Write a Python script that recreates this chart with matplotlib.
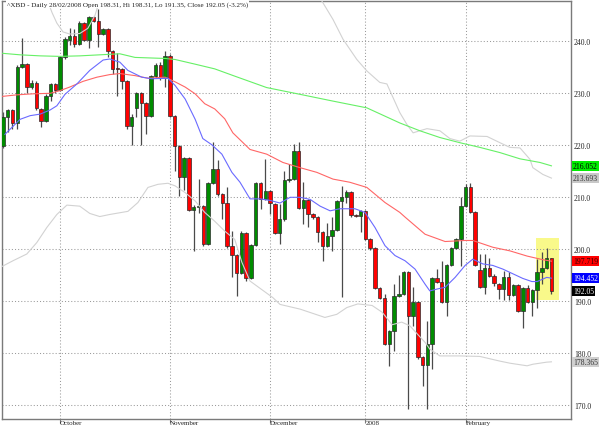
import matplotlib
matplotlib.use('Agg')
import matplotlib.pyplot as plt
from matplotlib.patches import Rectangle
import numpy as np

# ---------------- data ----------------
opens = [219.8, 225.5, 226.7, 224.2, 235.0, 235.6, 231.3, 231.9, 227.0, 224.7,
         229.4, 231.8, 230.6, 236.9, 240.3, 241.0, 239.5, 243.5, 240.3, 244.6,
         244.0, 241.5, 242.4, 238.1, 234.8, 234.7, 232.4, 223.8, 227.2, 230.1,
         228.1, 225.6, 233.3, 235.5, 232.9, 237.1, 225.6, 219.9, 214.0, 217.5,
         207.6, 208.1, 208.3, 201.0, 212.8, 215.4, 210.6, 208.9, 200.6, 198.9,
         195.4, 203.1, 194.4, 200.8, 212.8, 209.6, 211.3, 208.7, 203.1, 205.8,
         213.3, 213.5, 218.9, 208.0, 209.4, 206.7, 206.2, 203.3, 200.7, 202.5,
         203.8, 209.2, 210.0, 211.0, 206.6, 206.5, 207.4, 202.0, 200.2, 192.5,
         190.6, 181.8, 184.2, 191.0, 191.4, 195.7, 187.2, 189.8, 179.2, 177.8,
         181.8, 194.4, 193.7, 189.8, 197.0, 200.2, 202.0, 208.4, 211.9, 207.1,
         196.0, 192.7, 196.4, 194.8, 193.3, 192.4, 194.6, 191.3, 193.2, 188.2,
         192.5, 189.8, 192.1, 195.6, 196.5, 198.31]
closes = [225.5, 226.7, 224.2, 235.0, 235.6, 231.3, 231.9, 227.1, 224.7, 229.4,
          231.8, 230.6, 236.9, 240.4, 241.0, 239.5, 243.5, 240.3, 244.6, 244.0,
          241.5, 242.4, 238.1, 234.7, 234.6, 232.4, 223.8, 225.4, 230.1, 228.1,
          225.6, 233.3, 235.5, 232.9, 237.1, 225.7, 219.9, 214.0, 217.5, 207.6,
          208.1, 208.3, 201.0, 212.8, 215.4, 210.6, 208.9, 200.6, 198.9, 195.4,
          203.1, 194.4, 200.8, 212.8, 209.6, 211.3, 208.9, 203.1, 205.8, 213.3,
          213.5, 218.9, 208.0, 209.4, 206.7, 206.2, 203.3, 200.7, 202.5, 203.8,
          209.2, 210.0, 211.0, 206.6, 206.5, 207.3, 202.0, 200.2, 192.5, 190.6,
          181.8, 184.2, 191.0, 191.4, 195.7, 187.2, 189.8, 179.2, 177.8, 181.8,
          194.4, 193.7, 189.8, 197.0, 200.2, 202.0, 208.4, 211.9, 207.1, 197.0,
          192.7, 196.4, 194.8, 193.5, 192.4, 194.6, 191.3, 193.2, 188.2, 192.5,
          189.8, 192.2, 195.6, 196.5, 198.3, 192.05]
highs = [226.5, 227.0, 226.9, 235.5, 240.6, 235.9, 232.5, 232.3, 227.2, 229.8,
         232.0, 232.0, 237.2, 240.9, 242.6, 242.4, 244.0, 243.8, 244.9, 244.8,
         246.2, 242.6, 242.6, 238.3, 237.8, 234.9, 232.6, 226.0, 230.3, 230.3,
         228.3, 233.5, 235.8, 236.0, 238.2, 237.6, 225.8, 220.1, 217.7, 217.7,
         208.6, 213.5, 208.5, 213.0, 220.7, 217.2, 210.8, 212.0, 203.6, 199.1,
         203.5, 203.3, 201.0, 213.0, 213.0, 217.4, 211.5, 208.9, 208.7, 215.1,
         216.4, 220.3, 220.6, 212.9, 209.6, 206.9, 206.4, 203.5, 205.0, 206.2,
         209.5, 212.2, 211.5, 211.2, 206.8, 207.6, 207.6, 202.2, 200.4, 192.7,
         191.5, 184.4, 193.3, 195.0, 195.9, 195.9, 192.8, 190.0, 179.4, 186.2,
         194.6, 196.2, 197.8, 197.2, 200.4, 202.2, 210.0, 212.6, 212.8, 207.3,
         199.1, 199.1, 198.3, 195.2, 193.5, 195.9, 195.6, 193.4, 193.4, 192.7,
         193.2, 192.4, 198.1, 199.4, 200.2, 198.31]
lows = [219.5, 222.6, 223.1, 223.1, 234.8, 230.0, 230.8, 226.8, 223.5, 224.5,
        228.6, 230.0, 230.4, 236.6, 239.2, 238.9, 239.2, 240.0, 238.8, 243.8,
        239.0, 241.2, 237.0, 233.8, 229.5, 230.8, 223.1, 220.1, 225.4, 220.1,
        222.2, 225.4, 233.0, 232.5, 231.3, 225.5, 215.1, 210.3, 211.5, 207.3,
        199.7, 207.0, 200.7, 200.8, 212.5, 210.3, 205.8, 200.3, 194.6, 191.1,
        195.2, 194.0, 194.2, 200.6, 207.8, 209.4, 206.7, 202.9, 201.0, 205.5,
        213.0, 213.3, 207.8, 204.9, 204.2, 205.8, 201.4, 197.8, 200.5, 199.7,
        203.6, 190.8, 209.0, 206.3, 206.2, 203.4, 201.8, 199.9, 192.3, 190.4,
        181.6, 177.5, 180.4, 190.8, 191.2, 169.2, 185.3, 179.0, 173.7, 169.2,
        177.0, 193.5, 189.6, 187.2, 196.8, 200.0, 196.8, 208.2, 206.9, 196.8,
        192.5, 191.4, 194.6, 193.0, 190.4, 190.2, 190.3, 191.1, 187.9, 184.8,
        189.6, 187.2, 188.8, 193.3, 196.3, 191.35]

month_pos = [12, 35, 56, 76, 97]
month_labels = ['October', 'November', 'December', '2008', 'February']
price_ticks = [170, 180, 190, 200, 210, 220, 230, 240]

# indicator lines: (bar index, value)
ma_blue_x = [0.4, 3.6, 5.7, 7.8, 9.9, 11.3, 13.0, 15.5, 18.2, 21.0, 22.4, 24.5, 26.2, 29.1,
             31.2, 34.6, 36.1, 38.2, 40.3, 41.9, 43.8, 45.9, 48.0, 49.7, 51.8, 53.9, 56.0,
             58.1, 60.2, 62.3, 64.4, 66.5, 68.6, 70.6, 73.8, 75.9, 78.0, 80.1, 82.2, 84.3,
             86.4, 88.5, 89.5, 91.2, 92.7, 94.8, 96.9, 98.5, 100.6, 102.7, 104.8, 106.9,
             109.0, 110.9, 112.0, 114.0, 115.0]
ma_blue_y = [222.1, 225.0, 225.7, 226.0, 226.8, 227.6, 229.8, 231.8, 234.4, 236.4, 236.6, 236.0,
             234.4, 233.1, 232.8, 232.9, 231.5, 228.9, 225.0, 221.3, 220.1, 218.3, 214.8, 212.9,
             209.7, 209.7, 209.4, 208.9, 210.0, 210.0, 209.6, 208.3, 207.4, 207.8, 207.8, 207.1,
             204.2, 200.7, 198.8, 197.8, 196.2, 193.3, 192.0, 192.4, 192.7, 194.6, 196.9, 198.1,
             197.2, 196.9, 196.2, 195.3, 194.4, 193.8, 193.8, 194.6, 194.452]
ma_red_x = [-0.2, 2.9, 6.3, 9.9, 11.9, 14.0, 16.8, 19.7, 22.4, 24.5, 27.7, 30.4, 34.0, 36.1,
            38.2, 40.3, 42.3, 44.4, 46.5, 48.2, 51.8, 55.3, 58.7, 62.3, 65.8, 69.2, 72.7,
            76.3, 80.1, 83.2, 84.3, 88.5, 92.7, 96.9, 98.5, 102.7, 106.3, 109.9, 113.2, 115.0]
ma_red_y = [229.4, 229.7, 229.9, 230.0, 230.5, 231.2, 232.3, 233.1, 233.6, 233.8, 233.4, 232.9,
            233.1, 232.2, 231.2, 229.9, 228.0, 227.0, 225.1, 222.4, 219.2, 218.3, 216.7, 215.7,
            214.8, 213.5, 212.9, 211.9, 209.0, 207.1, 206.2, 202.9, 201.5, 201.7, 201.7, 200.4,
            199.7, 198.7, 198.0, 197.719]
ma_green_x = [-0.2, 3.6, 7.8, 11.9, 16.1, 20.3, 24.5, 27.7, 34.0, 36.1, 40.3, 44.4, 48.6, 55.3,
              62.3, 69.2, 76.3, 83.2, 87.4, 91.6, 95.8, 100.0, 104.2, 108.4, 112.6, 115.0]
ma_green_y = [237.7, 237.4, 237.2, 237.1, 237.2, 237.4, 237.6, 236.9, 236.7, 236.5, 235.6, 234.7,
              233.3, 231.1, 229.8, 228.5, 227.2, 224.3, 222.8, 221.5, 220.5, 219.6, 218.6, 217.4,
              216.7, 216.052]
band_up_x = [8.4, 9.4, 10.3, 11.3, 12.6, 14.0, 16.1, 17.8, 19.3, 20.3, 25.0, 35.0, 45.0, 55.0,
             62.0, 66.7, 69.2, 71.3, 74.2, 76.3, 79.0, 80.5, 83.2, 84.7, 86.0, 87.4, 88.9,
             91.6, 93.7, 95.8, 97.9, 101.5, 104.2, 106.3, 108.4, 110.5, 111.1, 113.2, 115.0]
band_up_y = [249.0, 247.7, 245.5, 243.5, 241.8, 241.4, 241.5, 242.5, 245.0, 248.0, 252.0, 254.0,
             254.0, 253.0, 251.0, 248.0, 244.2, 240.4, 236.5, 234.3, 232.1, 231.8, 226.3, 224.0,
             222.4, 222.8, 223.2, 222.8, 221.3, 220.8, 221.8, 221.7, 220.5, 219.6, 219.5, 217.3,
             215.7, 214.4, 213.693]
band_lo_x = [-0.2, 2.1, 5.0, 7.1, 9.2, 11.3, 13.4, 16.1, 18.2, 20.3, 22.4, 26.2, 28.3, 30.4,
             32.5, 34.6, 36.1, 38.2, 40.3, 42.3, 44.4, 46.5, 48.6, 50.1, 51.8, 56.6, 58.1,
             62.3, 67.5, 70.0, 72.1, 74.4, 77.4, 79.5, 81.6, 83.6, 85.3, 88.5, 89.5, 91.6,
             95.8, 100.0, 104.2, 106.3, 109.9, 111.1, 114.0, 115.0]
band_lo_y = [196.7, 197.8, 199.1, 201.3, 204.2, 206.7, 208.5, 208.3, 206.9, 206.3, 206.7, 207.3,
             209.0, 211.9, 212.5, 212.7, 212.2, 210.9, 209.3, 207.1, 205.4, 203.5, 201.9, 197.5,
             193.9, 190.7, 189.4, 188.5, 186.9, 187.5, 188.8, 189.5, 189.2, 187.9, 185.5, 186.0,
             185.3, 182.1, 180.8, 179.5, 179.5, 179.4, 178.5, 178.1, 177.6, 177.9, 178.3, 178.365]

last_values = [216.052, 213.693, 197.719, 194.452, 192.05, 178.365]
last_labels = ['216.052', '213.693', '197.719', '194.452', '192.05', '178.365']
last_bg = ['#00ee00', '#c8c8c8', '#ff0000', '#0000ff', '#000000', '#cfcfcf']
last_fg = ['#000000', '#333333', '#330000', '#ffffff', '#ffffff', '#333333']

title = '^XBD - Daily 28/02/2008 Open 198.31, Hi 198.31, Lo 191.35, Close 192.05 (-3.2%)'

# ---------------- figure ----------------
SERIF = ['Liberation Serif', 'DejaVu Serif']
fig = plt.figure(figsize=(6.0, 4.27), dpi=100)
ax = fig.add_axes([2 / 600, 7 / 427, 569 / 600, 418 / 427])
ax.set_xlim(-0.2, 119.1)
ax.set_ylim(167.37, 247.75)

for s in ax.spines.values():
    s.set_color('#7a7a7a')
    s.set_linewidth(1.0)

ax.grid(True, color='#9a9a9a', linestyle=(0, (1, 2)), linewidth=0.75, zorder=0)
ax.set_axisbelow(True)

ax.set_yticks(price_ticks)
ax.set_yticklabels(['%.1f' % v for v in price_ticks], family=SERIF, fontsize=5.5)
ax.yaxis.tick_right()
ax.tick_params(axis='y', length=0, pad=2, colors='#222222')
ax.set_xticks(month_pos)
ax.set_xticklabels(month_labels, family=SERIF, fontsize=5.0)
for lbl in ax.get_xticklabels():
    lbl.set_ha('left')
    lbl.set_va('top')
ax.tick_params(axis='x', length=3, pad=-2.2, color='#7a7a7a', labelcolor='#222222')

# highlight box around the last bars
ax.add_patch(Rectangle((111.7, 190.25), 4.9, 12.0, facecolor='#f9f98a', edgecolor='none', zorder=0.5))

o = np.array(opens); c = np.array(closes); h = np.array(highs); l = np.array(lows)
idx = np.arange(len(o))
up = c >= o
ax.vlines(idx, l, h, color='#4a4a4a', linewidth=0.9, zorder=2)
ax.bar(idx, np.maximum(np.abs(c - o), 0.15), bottom=np.minimum(o, c), width=0.72,
       color=np.where(up, '#008c00', '#ff0000'), edgecolor='#2a2a2a', linewidth=0.5, zorder=3)

ax.plot(band_up_x, band_up_y, color='#d2d2d2', linewidth=0.8, zorder=4)
ax.plot(band_lo_x, band_lo_y, color='#d2d2d2', linewidth=0.8, zorder=4)
ax.plot(ma_green_x, ma_green_y, color='#66f066', linewidth=0.8, zorder=4)
ax.plot(ma_red_x, ma_red_y, color='#ff6666', linewidth=0.8, zorder=4)
ax.plot(ma_blue_x, ma_blue_y, color='#6a6aff', linewidth=0.8, zorder=4)

for v, t, bg, fg in zip(last_values, last_labels, last_bg, last_fg):
    ax.annotate(t, xy=(1.0, v), xycoords=('axes fraction', 'data'), xytext=(1.5, 0),
                textcoords='offset points', ha='left', va='center', family=SERIF,
                fontsize=5.5, color=fg, annotation_clip=False,
                bbox=dict(boxstyle='square,pad=0.12', facecolor=bg, edgecolor='none'))

ax.text(0.008, 0.993, title, transform=ax.transAxes, ha='left', va='center', family=SERIF,
        fontsize=5.1, color='#222222', zorder=6,
        bbox=dict(boxstyle='square,pad=0.1', facecolor='white', edgecolor='none'))

fig.savefig('out.png', dpi=100)
